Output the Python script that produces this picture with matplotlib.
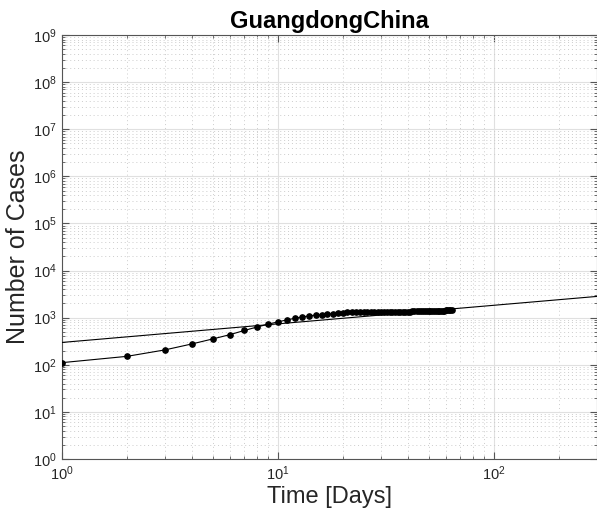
import numpy as np
import matplotlib.pyplot as plt
from matplotlib.ticker import LogLocator, LogFormatterMathtext, NullFormatter

plt.rcParams['font.family'] = ['Liberation Sans', 'DejaVu Sans']
plt.rcParams['mathtext.fontset'] = 'custom'
plt.rcParams['mathtext.rm'] = 'Liberation Sans'
plt.rcParams['mathtext.default'] = 'regular'

# cumulative confirmed cases, one value per day
cases = [111, 151, 207, 277, 354, 436, 535, 632, 725, 813,
         895, 970, 1034, 1095, 1131, 1159, 1177, 1219, 1241, 1261,
         1294, 1316, 1322, 1328, 1331, 1332, 1333, 1339, 1342, 1345,
         1347, 1347, 1347, 1348, 1348, 1349, 1349, 1350, 1350, 1350,
         1351, 1352, 1352, 1352, 1352, 1353, 1356, 1356, 1356, 1356,
         1360, 1361, 1364, 1370, 1378, 1395, 1400, 1413, 1415, 1428,
         1433, 1448, 1456, 1467]
days = np.arange(1, len(cases) + 1)

# power-law fit  y = a * t^b
fit_a = 298.0
fit_b = 0.394
fit_days = np.linspace(1, 300, 400)

text_color = '#262626'
axis_color = '#555555'

fig = plt.figure(figsize=(5.97, 5.17), dpi=100)
ax = fig.add_axes([62 / 597, 1 - 459 / 517, 534.5 / 597, 424 / 517])

ax.plot(fit_days, fit_a * fit_days ** fit_b, color='black', linewidth=0.8, zorder=3)
ax.plot(days, cases, color='black', linewidth=0.8, marker='o', markersize=3.8,
        markerfacecolor='black', markeredgecolor='black', zorder=4)

ax.set_xscale('log')
ax.set_yscale('log')
ax.set_xlim(1, 300)
ax.set_ylim(1, 1e9)

ax.xaxis.set_major_locator(LogLocator(base=10, numticks=10))
ax.yaxis.set_major_locator(LogLocator(base=10, numticks=12))
ax.xaxis.set_minor_locator(LogLocator(base=10, subs=np.arange(2, 10), numticks=20))
ax.yaxis.set_minor_locator(LogLocator(base=10, subs=np.arange(2, 10), numticks=20))
ax.xaxis.set_major_formatter(LogFormatterMathtext())
ax.yaxis.set_major_formatter(LogFormatterMathtext())
ax.xaxis.set_minor_formatter(NullFormatter())
ax.yaxis.set_minor_formatter(NullFormatter())

ax.grid(True, which='major', color='#e0e0e0', linestyle='-', linewidth=0.8)
ax.grid(True, which='minor', color='#cccccc', linestyle=(0, (1, 3)), linewidth=0.7)
ax.set_axisbelow(True)

ax.tick_params(which='both', direction='in', top=True, right=True,
               colors=axis_color, labelcolor=text_color, labelsize=10.5)
ax.tick_params(which='major', length=5, width=0.8, pad=4)
ax.tick_params(which='minor', length=2.5, width=0.6)
for spine in ax.spines.values():
    spine.set_color(axis_color)
    spine.set_linewidth(0.8)

ax.set_title('GuangdongChina', fontsize=17, fontweight='bold', color='black', pad=5)
ax.set_xlabel('Time [Days]', fontsize=17, color=text_color, labelpad=2)
ax.set_ylabel('Number of Cases', fontsize=18, color=text_color, labelpad=2)

fig.savefig('out.png', dpi=100)
